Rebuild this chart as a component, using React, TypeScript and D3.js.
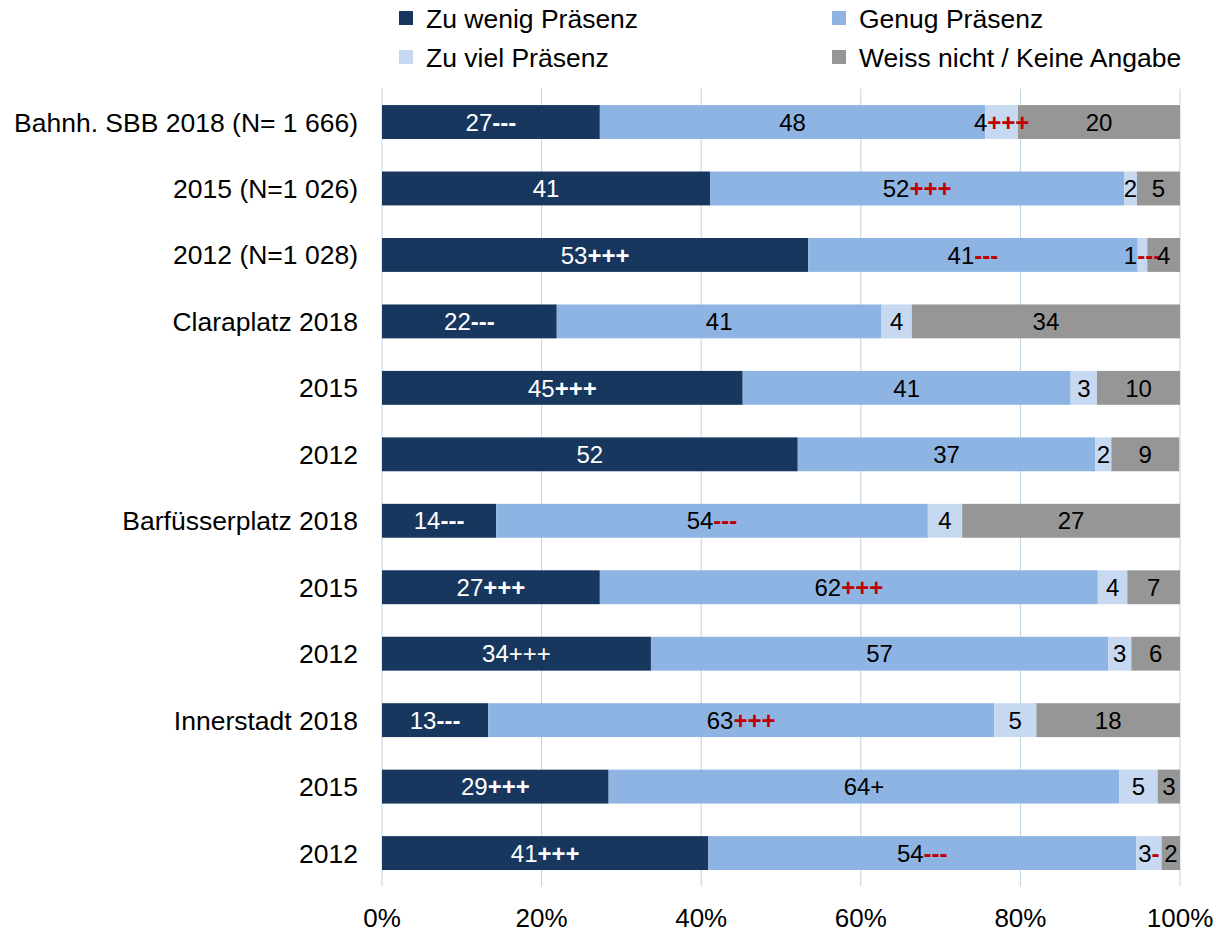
import React from "react";
import * as d3 from "d3";

const categories = [
  "Bahnh. SBB 2018 (N= 1 666)",
  "2015 (N=1 026)",
  "2012 (N=1 028)",
  "Claraplatz 2018",
  "2015",
  "2012",
  "Barfüsserplatz 2018",
  "2015",
  "2012",
  "Innerstadt 2018",
  "2015",
  "2012",
];

const seriesNames = ["Zu wenig Präsenz", "Genug Präsenz", "Zu viel Präsenz", "Weiss nicht / Keine Angabe"];
const seriesColors = ["#17375E", "#8EB4E3", "#C6D9F1", "#969696"];

// segment widths (percent)
const zuWenig = [27.3, 41.1, 53.4, 21.9, 45.2, 52.1, 14.3, 27.3, 33.7, 13.3, 28.4, 40.9];
const genug = [48.3, 51.9, 41.3, 40.7, 41.1, 37.3, 54.1, 62.4, 57.3, 63.4, 64.0, 53.6];
const zuViel = [4.1, 1.6, 1.2, 3.8, 3.3, 2.0, 4.3, 3.7, 2.9, 5.3, 4.8, 3.2];
const weissNicht = [20.3, 5.4, 4.1, 33.6, 10.4, 8.5, 27.3, 6.6, 6.1, 18.0, 2.8, 2.3];

// printed labels
const labZuWenig = ["27", "41", "53", "22", "45", "52", "14", "27", "34", "13", "29", "41"];
const labGenug = ["48", "52", "41", "41", "41", "37", "54", "62", "57", "63", "64", "54"];
const labZuViel = ["4", "2", "1", "4", "3", "2", "4", "4", "3", "5", "5", "3"];
const labWeiss = ["20", "5", "4", "34", "10", "9", "27", "7", "6", "18", "3", "2"];

// significance markers ("*" prefix = plain, not highlighted)
const sigZuWenig = ["---", "", "+++", "---", "+++", "", "---", "+++", "*+++", "---", "+++", "+++"];
const sigGenug = ["", "+++", "---", "", "", "", "---", "+++", "", "+++", "*+", "---"];
const sigZuViel = ["+++", "", "---", "", "", "", "", "", "", "", "", "-"];
const sigWeiss = ["", "", "", "", "", "", "", "", "", "", "", ""];

const xTicks = [0, 20, 40, 60, 80, 100];

const W = 1216;
const H = 932;
const FONT = "'Liberation Sans', Arial, sans-serif";

export default function App() {
  const x = d3.scaleLinear().domain([0, 100]).range([382, 1180]);
  const y = d3
    .scaleBand<number>()
    .domain(d3.range(categories.length))
    .range([88.8, 886.3])
    .paddingInner(0.49)
    .paddingOuter(0.245);

  const values = [zuWenig, genug, zuViel, weissNicht];
  const labels = [labZuWenig, labGenug, labZuViel, labWeiss];
  const sigs = [sigZuWenig, sigGenug, sigZuViel, sigWeiss];

  const rows = categories.map((_, i) => {
    const row: Record<string, number> = {};
    seriesNames.forEach((s, k) => (row[s] = values[k][i]));
    return row;
  });
  const stacked = d3.stack<Record<string, number>>().keys(seriesNames)(rows);

  const legendPos = [
    [399, 18],
    [832, 18],
    [399, 57],
    [832, 57],
  ];

  return (
    <svg width={W} height={H} style={{ position: "absolute", left: 0, top: 0, background: "#fff" }}>
      <rect x={0} y={0} width={W} height={H} fill="#fff" />
      {/* legend */}
      {seriesNames.map((s, k) => (
        <g key={s}>
          <rect x={legendPos[k][0]} y={legendPos[k][1] - 7} width={14} height={14} fill={seriesColors[k]} />
          <text
            x={legendPos[k][0] + 27}
            y={legendPos[k][1]}
            dy="0.36em"
            fontFamily={FONT}
            fontSize={26.5}
            fill="#000"
          >
            {s}
          </text>
        </g>
      ))}
      {/* gridlines */}
      {xTicks.map((t) => (
        <line key={t} x1={x(t)} x2={x(t)} y1={88.8} y2={886.3} stroke="#BFD3DF" strokeWidth={1} />
      ))}
      {/* bars */}
      {stacked.map((ser, k) => (
        <g key={k}>
          {ser.map((d, i) => (
            <rect
              key={i}
              x={x(d[0])}
              y={y(i)!}
              width={x(d[1]) - x(d[0])}
              height={y.bandwidth()}
              fill={seriesColors[k]}
            />
          ))}
        </g>
      ))}
      {/* labels */}
      {stacked.map((ser, k) => (
        <g key={"l" + k}>
          {ser.map((d, i) => {
            const cx = (x(d[0]) + x(d[1])) / 2;
            const cy = y(i)! + y.bandwidth() / 2;
            const base = k === 0 ? "#fff" : "#000";
            let sig = sigs[k][i];
            let plain = false;
            if (sig.startsWith("*")) {
              plain = true;
              sig = sig.slice(1);
            }
            const sigColor = plain ? base : k === 0 ? "#fff" : "#C00000";
            return (
              <text
                key={i}
                x={cx}
                y={cy}
                dy="0.36em"
                textAnchor="middle"
                fontFamily={FONT}
                fontSize={24}
                fill={base}
              >
                {labels[k][i]}
                {sig && (
                  <tspan fill={sigColor} fontWeight={plain ? "normal" : "bold"}>
                    {sig}
                  </tspan>
                )}
              </text>
            );
          })}
        </g>
      ))}
      {/* category labels */}
      {categories.map((c, i) => (
        <text
          key={i}
          x={358}
          y={y(i)! + y.bandwidth() / 2}
          dy="0.36em"
          textAnchor="end"
          fontFamily={FONT}
          fontSize={26.5}
          fill="#000"
        >
          {c}
        </text>
      ))}
      {/* x axis labels */}
      {xTicks.map((t) => (
        <text
          key={t}
          x={x(t)}
          y={918}
          dy="0.36em"
          textAnchor="middle"
          fontFamily={FONT}
          fontSize={26}
          fill="#000"
        >
          {t + "%"}
        </text>
      ))}
    </svg>
  );
}
